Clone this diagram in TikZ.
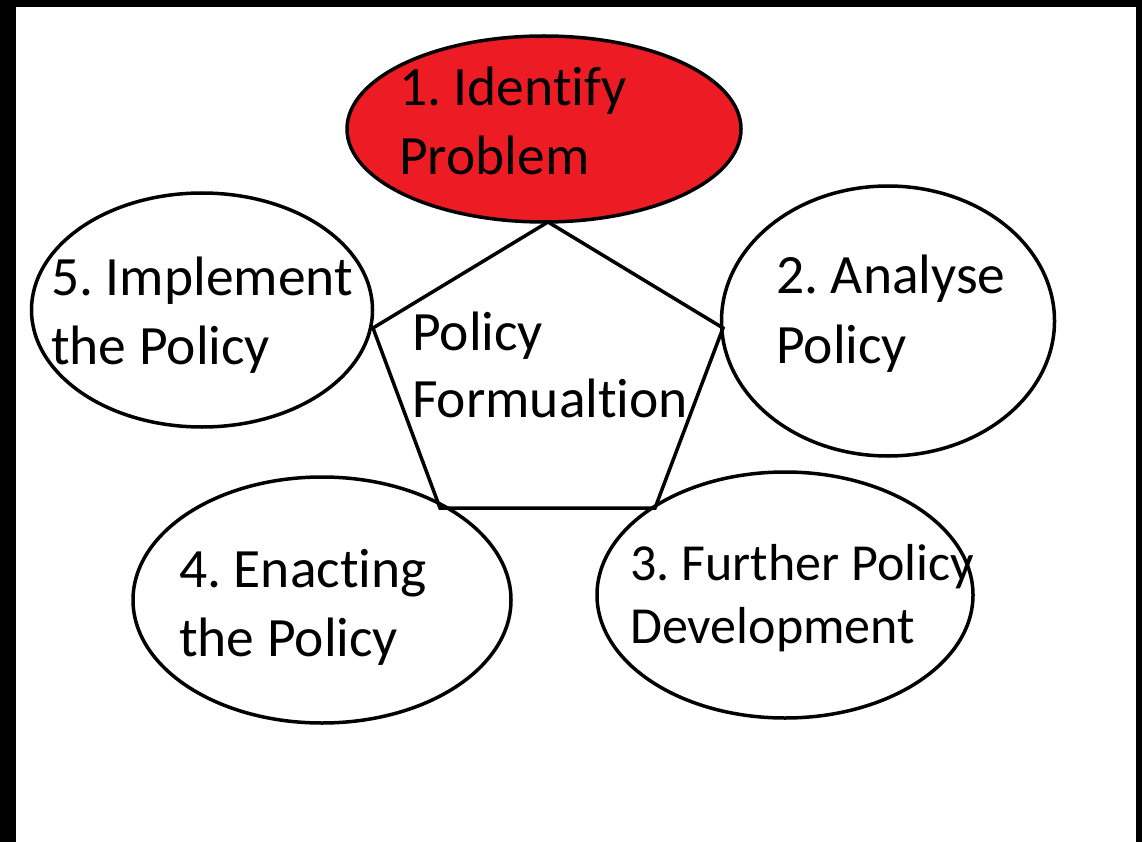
\documentclass[tikz,border=0pt]{standalone}
\usepackage{fontspec}
\setmainfont[Ligatures=NoCommon]{Carlito}
\usetikzlibrary{shapes.geometric}
\definecolor{paintred}{HTML}{ED1C24}
\tikzset{
  stage/.style={ellipse, draw=black, line width=3.5pt, inner sep=0pt},
  lbl/.style={anchor=base west, inner sep=0pt, font=\fontsize{55.5}{68}\selectfont},
  smalllbl/.style={lbl, font=\fontsize{52}{64}\selectfont},
  edge/.style={draw=black, line width=3.5pt, line join=miter}
}
\frenchspacing
\begin{document}
\begin{tikzpicture}[x=1pt,y=-1pt]
\useasboundingbox (0,0) rectangle (1142,842);
\fill[black] (0,0) rectangle (1142,842);
\fill[white] (16,7) rectangle (1136,842);
% stages
\node[stage, fill=paintred, minimum width=394pt, minimum height=186pt] (s1) at (544,129) {};
\node[stage, fill=white, minimum width=333pt, minimum height=270pt] (s2) at (888,321) {};
\node[stage, fill=white, minimum width=376pt, minimum height=246pt] (s3) at (785,595) {};
\node[stage, fill=white, minimum width=378pt, minimum height=246pt] (s4) at (322,600) {};
\node[stage, fill=white, minimum width=341pt, minimum height=234pt] (s5) at (202,310) {};
% pentagon vertices
\coordinate (p1) at (548,222);
\coordinate (p2) at (723,328);
\coordinate (p3) at (655,508);
\coordinate (p4) at (440,508);
\coordinate (p5) at (373,328);
\draw[edge] (p1) -- (p2) -- (p3) -- (p4) -- (p5) -- cycle;
% labels
\node[lbl] (t1a) at (399,106) {1. Identify};
\node[lbl] (t1b) at (399,175) {Problem};
\node[lbl] (t2a) at (776,293) {2. Analyse};
\node[lbl] (t2b) at (776,363) {Policy};
\node[smalllbl] (t3a) at (630,580) {3. Further Policy};
\node[smalllbl] (t3b) at (630,643) {Development};
\node[lbl] (t4a) at (179,587) {4. Enacting};
\node[lbl] (t4b) at (179,656) {the Policy};
\node[lbl] (t5a) at (51,295) {5. Implement};
\node[lbl] (t5b) at (51,364) {the Policy};
\node[lbl] (c1) at (412,350) {Policy};
\node[lbl] (c2) at (412,417) {Formualtion};
\end{tikzpicture}
\end{document}
